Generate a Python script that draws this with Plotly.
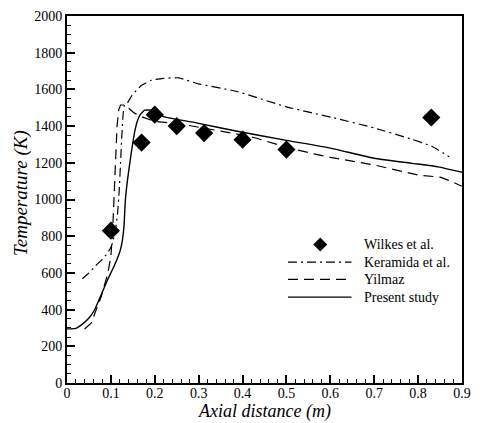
import plotly.graph_objects as go

# ---- data ----
wilkes_x = [0.10, 0.17, 0.20, 0.25, 0.3125, 0.40, 0.50, 0.83]
wilkes_y = [830, 1310, 1462, 1400, 1362, 1326, 1272, 1447]

keramida_x = [0.035, 0.050, 0.063, 0.078, 0.089, 0.098, 0.104, 0.110, 0.115, 0.119, 0.122,
              0.125, 0.128, 0.131, 0.136, 0.148, 0.160, 0.170, 0.192, 0.22, 0.255, 0.296,
              0.385, 0.50, 0.608, 0.70, 0.786, 0.831, 0.871]
keramida_y = [568, 600, 634, 668, 698, 730, 765, 830, 920, 1050, 1200,
              1350, 1470, 1515, 1520, 1568, 1600, 1622, 1650, 1660, 1663, 1632,
              1590, 1505, 1445, 1390, 1328, 1290, 1233]

yilmaz_x = [0.040, 0.055, 0.065, 0.078, 0.093, 0.100, 0.104, 0.107, 0.110, 0.114, 0.118,
            0.122, 0.132, 0.153, 0.165, 0.20, 0.25, 0.30, 0.385, 0.43, 0.50, 0.56,
            0.60, 0.70, 0.75, 0.80, 0.85, 0.875, 0.90]
yilmaz_y = [294, 326, 390, 471, 598, 690, 830, 1000, 1200, 1400, 1490,
            1515, 1515, 1472, 1455, 1425, 1415, 1395, 1358, 1335, 1285, 1250,
            1230, 1188, 1160, 1133, 1122, 1100, 1072]

present_x = [0.0, 0.020, 0.033, 0.050, 0.063, 0.073, 0.093, 0.105, 0.115, 0.121, 0.126,
             0.130, 0.133, 0.138, 0.144, 0.150, 0.155, 0.160, 0.166, 0.177, 0.192, 0.200,
             0.222, 0.30, 0.385, 0.50, 0.60, 0.70, 0.786, 0.846, 0.90]
present_y = [295, 298, 317, 354, 399, 453, 565, 625, 680, 720, 775,
             860, 997, 1110, 1214, 1310, 1378, 1425, 1460, 1487, 1487, 1475,
             1450, 1415, 1373, 1322, 1280, 1225, 1197, 1178, 1148]

legend_labels = ["Wilkes et al.", "Keramida et al.", "Yilmaz", "Present study"]
line_dashes = ["9px,4px,2px,4px", "10px,6px", "solid"]
x_title = "Axial distance (m)"
y_title = "Temperature (K)"

x_range = [0, 0.9]
y_range = [0, 2000]

FONT = "'Liberation Serif', 'Times New Roman', serif"

fig = go.Figure()

fig.add_trace(go.Scatter(x=keramida_x, y=keramida_y, mode="lines",
                         line=dict(color="black", width=1.2, dash=line_dashes[0], shape="spline", smoothing=0.4),
                         name=legend_labels[1], showlegend=False))
fig.add_trace(go.Scatter(x=yilmaz_x, y=yilmaz_y, mode="lines",
                         line=dict(color="black", width=1.2, dash=line_dashes[1]),
                         name=legend_labels[2], showlegend=False))
fig.add_trace(go.Scatter(x=present_x, y=present_y, mode="lines",
                         line=dict(color="black", width=1.4, shape="spline", smoothing=0.4),
                         name=legend_labels[3], showlegend=False))
fig.add_trace(go.Scatter(x=wilkes_x, y=wilkes_y, mode="markers",
                         marker=dict(symbol="diamond", size=14, color="black"),
                         name=legend_labels[0], showlegend=False))

# ---- custom legend (paper coordinates) ----
PL, PR, PT, PB = 67, 471, 15.7, 383.3
def px2paper(px, py):
    return (px - PL) / (PR - PL), (PB - py) / (PB - PT)

row_y = [244.5, 262.3, 279.5, 297.3]
text_x = 369
for i, lab in enumerate(legend_labels):
    tx, ty = px2paper(text_x, row_y[i])
    fig.add_annotation(x=tx, y=ty, xref="paper", yref="paper", text=lab,
                       showarrow=False, xanchor="left", yanchor="middle",
                       font=dict(family=FONT, size=14, color="black"))
# diamond sample
dx, dy = px2paper(326, row_y[0])
fig.add_shape(type="path", xref="paper", yref="paper", xsizemode="pixel",
              ysizemode="pixel", xanchor=dx, yanchor=dy,
              path="M 0 7 L 7 0 L 0 -7 L -7 0 Z",
              fillcolor="black", line=dict(color="black", width=0))
# line samples
for i, d in enumerate(line_dashes):
    x0, y0 = px2paper(293, row_y[i + 1])
    x1, _ = px2paper(358, row_y[i + 1])
    fig.add_shape(type="line", xref="paper", yref="paper", x0=x0, x1=x1, y0=y0, y1=y0,
                  line=dict(color="black", width=1.2, dash=d))

# axis titles as annotations for exact placement
xt, yt = px2paper(269, 412)
fig.add_annotation(x=xt, y=yt, xref="paper", yref="paper", text="<i>" + x_title + "</i>",
                   showarrow=False, xanchor="center", yanchor="middle",
                   font=dict(family=FONT, size=18, color="black"))
xt, yt = px2paper(20, 193)
fig.add_annotation(x=xt, y=yt, xref="paper", yref="paper", text="<i>" + y_title + "</i>",
                   showarrow=False, xanchor="center", yanchor="middle", textangle=-90,
                   font=dict(family=FONT, size=19, color="black"))

fig.update_layout(
    width=480, height=423,
    margin=dict(l=67, r=9, t=16, b=40),
    paper_bgcolor="white", plot_bgcolor="white",
    font=dict(family=FONT, size=14, color="black"),
    showlegend=False,
)
fig.update_xaxes(range=x_range, dtick=0.1, tick0=0, ticks="inside", ticklen=8,
                 tickwidth=1.5, tickcolor="black", showgrid=False, zeroline=False,
                 showline=True, linecolor="black", linewidth=2, mirror=True,
                 tickfont=dict(family=FONT, size=14), ticklabeloverflow="allow",
                 ticklabelstandoff=-4,
                 minor=dict(dtick=0.02, ticks="inside", ticklen=4, tickwidth=1, tickcolor="black", showgrid=False))
fig.update_yaxes(range=y_range, dtick=200, tick0=0, ticks="inside", ticklen=8,
                 tickwidth=1.5, tickcolor="black", showgrid=False, zeroline=False,
                 showline=True, linecolor="black", linewidth=2, mirror=True,
                 tickfont=dict(family=FONT, size=14),
                 minor=dict(dtick=50, ticks="inside", ticklen=4, tickwidth=1, tickcolor="black", showgrid=False))

fig.write_html("out.html", config={"displayModeBar": False},
               post_script="document.body.style.margin='0';")
